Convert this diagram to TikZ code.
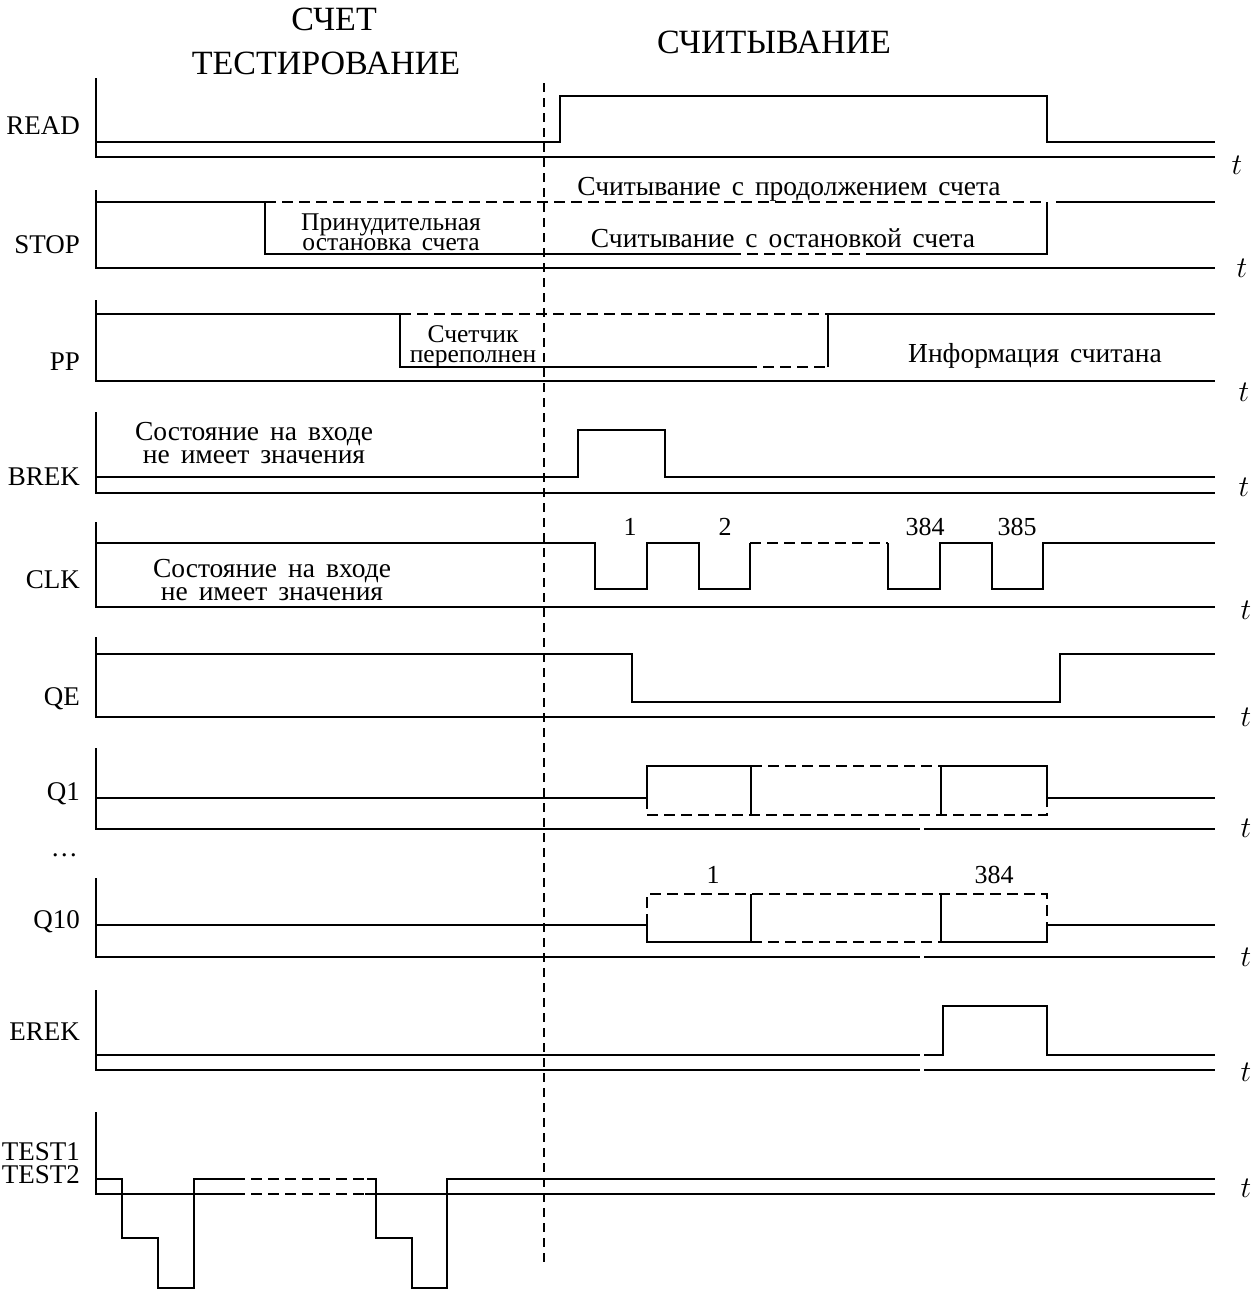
\RequirePackage{fix-cm}
\documentclass[tikz,border=0pt]{standalone}
\usepackage{fontspec}
\setmainfont{Liberation Serif}
\newfontfamily\annfam{Liberation Serif}[WordSpace=1.6]
\begin{document}
\begin{tikzpicture}[x=1pt,y=-1pt,
  sig/.style={line width=2.3pt,line join=miter},
  dsig/.style={line width=2.3pt,dash pattern=on 11pt off 6pt},
  axis/.style={line width=2.3pt,line join=miter},
  vdash/.style={line width=2pt,dash pattern=on 9pt off 6pt},
  ttl/.style={anchor=base,inner sep=0pt,font=\fontsize{34}{36}\selectfont},
  lab/.style={anchor=base east,inner sep=0pt,font=\fontsize{27}{29}\selectfont},
  ann/.style={anchor=base,inner sep=0pt,font=\annfam\fontsize{27.5}{29}\selectfont},
  annpair/.style={anchor=base,inner sep=0pt,align=center,font=\annfam\fontsize{27.5}{23}\selectfont},
  annsmall/.style={anchor=base,inner sep=0pt,align=center,font=\annfam\fontsize{25.5}{20.5}\selectfont},
  num/.style={anchor=base,inner sep=0pt,font=\fontsize{26}{28}\selectfont},
  tlab/.style={anchor=center,inner sep=0pt,font=\fontsize{30}{30}\selectfont}]
\useasboundingbox (0,0) rectangle (1258,1291);

% titles
\node[ttl] (t1) at (334,30) {СЧЕТ};
\node[ttl] (t2) at (326,74) {ТЕСТИРОВАНИЕ};
\node[ttl] (t3) at (774,53) {СЧИТЫВАНИЕ};

% vertical phase divider
\draw[vdash] (544,83) -- (544,1262);

% ---------- READ
\node[lab] (lREAD) at (80,134) {READ};
\draw[axis] (96,78) -- (96,157) -- (1215,157);
\draw[sig] (96,142) -- (560,142) -- (560,96) -- (1047,96) -- (1047,142) -- (1215,142);
\node[tlab] (tREAD) at (1237,165) {$t$};

% ---------- STOP
\node[lab] (lSTOP) at (80,253) {STOP};
\draw[axis] (96,190) -- (96,268) -- (1215,268);
\draw[sig] (96,202) -- (265,202) -- (265,254) -- (730,254);
\draw[dsig] (730,254) -- (869,254);
\draw[sig] (869,254) -- (1047,254) -- (1047,202);
\draw[dsig] (265,202) -- (1047,202);
\draw[sig] (1056,202) -- (1215,202);
\node[annsmall] (aS1) at (391,250.5) {Принудительная\\остановка счета};
\node[ann] (aS3) at (789,195) {Считывание с продолжением счета};
\node[ann] (aS4) at (783,247) {Считывание с остановкой счета};
\node[tlab] (tSTOP) at (1242,268) {$t$};

% ---------- PP
\node[lab] (lPP) at (80,370) {PP};
\draw[axis] (96,300) -- (96,381) -- (1215,381);
\draw[sig] (96,314) -- (400,314) -- (400,367) -- (746,367);
\draw[dsig] (746,367) -- (828,367);
\draw[sig] (828,367) -- (828,314) -- (1215,314);
\draw[dsig] (400,314) -- (828,314);
\node[annsmall] (aP1) at (473,362.5) {Счетчик\\переполнен};
\node[ann] (aP3) at (1035,362) {Информация считана};
\node[tlab] (tPP) at (1244,392) {$t$};

% ---------- BREK
\node[lab] (lBREK) at (80,485) {BREK};
\draw[axis] (96,412) -- (96,493) -- (1215,493);
\draw[sig] (96,477) -- (578,477) -- (578,430) -- (665,430) -- (665,477) -- (1215,477);
\node[annpair] (aB1) at (254,463) {Состояние на входе\\не имеет значения};
\node[tlab] (tBREK) at (1244,487) {$t$};

% ---------- CLK
\node[lab] (lCLK) at (80,588) {CLK};
\draw[axis] (96,522) -- (96,607) -- (1215,607);
\draw[sig] (96,543) -- (595,543) -- (595,589) -- (647,589) -- (647,543) -- (699,543)
  -- (699,589) -- (750,589) -- (750,543);
\draw[dsig] (750,543) -- (888,543);
\draw[sig] (888,543) -- (888,589) -- (940,589) -- (940,543) -- (992,543) -- (992,589)
  -- (1043,589) -- (1043,543) -- (1215,543);
\node[annpair] (aC1) at (272,600) {Состояние на входе\\не имеет значения};
\node[num] (n1) at (630,535) {1};
\node[num] (n2) at (725,535) {2};
\node[num] (n384) at (925,535) {384};
\node[num] (n385) at (1017,535) {385};
\node[tlab] (tCLK) at (1246,610) {$t$};

% ---------- QE
\node[lab] (lQE) at (80,705) {QE};
\draw[axis] (96,637) -- (96,717) -- (1215,717);
\draw[sig] (96,654) -- (632,654) -- (632,702) -- (1060,702) -- (1060,654) -- (1215,654);
\node[tlab] (tQE) at (1246,717) {$t$};

% ---------- Q1
\node[lab] (lQ1) at (80,800) {Q1};
\draw[axis] (96,748) -- (96,829) -- (920,829);
\draw[axis] (924,829) -- (1215,829);
\draw[sig] (96,798) -- (647,798) -- (647,766) -- (751,766);
\draw[sig] (751,766) -- (751,815);
\draw[dsig] (647,798) -- (647,815) -- (751,815) -- (941,815) -- (1047,815) -- (1047,798);
\draw[dsig] (751,766) -- (941,766);
\draw[sig] (941,815) -- (941,766) -- (1047,766) -- (1047,798) -- (1215,798);
\node[tlab] (tQ1) at (1246,828) {$t$};

\node[lab] (ldots) at (78,856) {…};

% ---------- Q10
\node[lab] (lQ10) at (80,928) {Q10};
\draw[axis] (96,878) -- (96,957) -- (920,957);
\draw[axis] (924,957) -- (1215,957);
\draw[sig] (96,925) -- (647,925) -- (647,942) -- (751,942) -- (751,894);
\draw[dsig] (647,925) -- (647,894) -- (751,894) -- (941,894) -- (1047,894) -- (1047,925);
\draw[dsig] (751,942) -- (941,942);
\draw[sig] (941,894) -- (941,942) -- (1047,942) -- (1047,925) -- (1215,925);
\node[num] (m1) at (713,883) {1};
\node[num] (m384) at (994,883) {384};
\node[tlab] (tQ10) at (1246,957) {$t$};

% ---------- EREK
\node[lab] (lEREK) at (80,1040) {EREK};
\draw[axis] (96,990) -- (96,1070) -- (920,1070);
\draw[axis] (924,1070) -- (1215,1070);
\draw[sig] (96,1055) -- (920,1055);
\draw[sig] (924,1055) -- (943,1055) -- (943,1006) -- (1047,1006) -- (1047,1055) -- (1215,1055);
\node[tlab] (tEREK) at (1246,1072) {$t$};

% ---------- TEST1 / TEST2
\node[lab] (lT1) at (80,1160) {TEST1};
\node[lab] (lT2) at (80,1183) {TEST2};
\draw[axis] (96,1112) -- (96,1194) -- (234,1194);
\draw[dsig] (234,1194) -- (365,1194);
\draw[axis] (365,1194) -- (1215,1194);
\draw[sig] (96,1179) -- (122,1179) -- (122,1238) -- (158,1238) -- (158,1288) -- (194,1288)
  -- (194,1179) -- (234,1179);
\draw[dsig] (234,1179) -- (367,1179);
\draw[sig] (367,1179) -- (376,1179) -- (376,1238) -- (412,1238) -- (412,1288) -- (447,1288)
  -- (447,1179) -- (1215,1179);
\node[tlab] (tTEST) at (1246,1188) {$t$};
\end{tikzpicture}
\end{document}
